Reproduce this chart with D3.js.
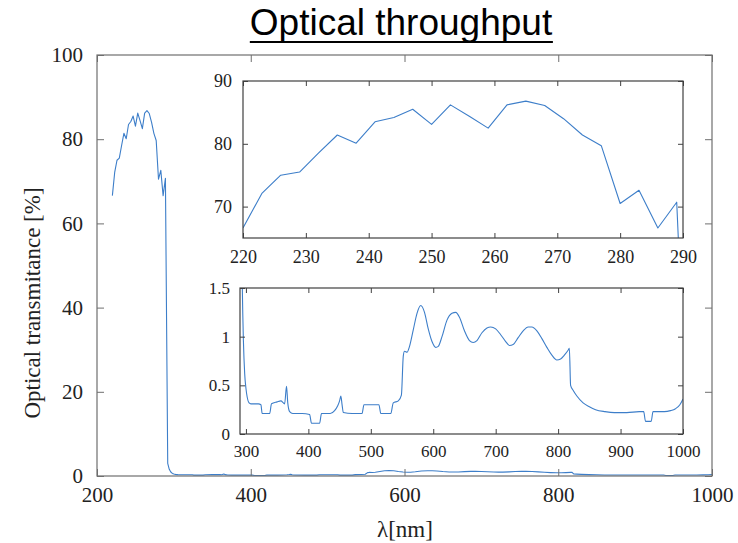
<!DOCTYPE html>
<html>
<head>
<meta charset="utf-8">
<script src="https://cdn.jsdelivr.net/npm/d3@7"></script>
<style>
  html, body { margin: 0; padding: 0; background: #fff; }
  svg { display: block; }
</style>
</head>
<body>
<svg id="chart" width="738" height="543"></svg>
<script>
// ---------- data ----------
const titleText = "Optical throughput";
const xLabel = "λ[nm]";
const yLabel = "Optical transmitance [%]";

// UV band (nm, %)
const uvWavelength = [220,223,226,229,232,235,238,241,244,247,250,253,256,259,262,265,268,271,274,277,280,283,286,289];
const uvTransmittance = [66.6,72.1,75.0,75.5,78.5,81.4,80.1,83.5,84.2,85.5,83.1,86.2,84.4,82.5,86.2,86.8,86.1,84.0,81.4,79.7,70.5,72.6,66.6,70.7];

// Visible / NIR band (nm, %)
const visWavelength = [292,294,296,298,300,302,305,308,320,324,326,335,338,341,350,356,360,362,365,367,370,375,390,402,405,418,421,435,442,447,450,452,454,456,470,486,489,500,513,516,532,536,544,549,552,554,558,562,568,574,580,586,592,598,604,608,614,622,630,636,642,650,658,664,670,678,686,692,700,708,716,722,728,736,744,752,758,766,774,782,790,798,804,810,816,818,820,824,830,840,850,860,875,890,910,930,937,940,949,952,970,980,988,995,1000];
const visTransmittance = [3.0,1.6,0.95,0.62,0.47,0.38,0.32,0.31,0.31,0.30,0.21,0.21,0.21,0.31,0.33,0.34,0.32,0.31,0.49,0.32,0.23,0.21,0.21,0.20,0.11,0.11,0.21,0.21,0.24,0.29,0.34,0.39,0.30,0.22,0.21,0.21,0.30,0.30,0.30,0.21,0.21,0.32,0.34,0.40,0.80,0.85,0.84,0.90,1.07,1.24,1.32,1.25,1.08,0.95,0.89,0.90,1.00,1.17,1.24,1.25,1.20,1.06,0.96,0.94,0.96,1.04,1.09,1.10,1.08,1.02,0.95,0.91,0.92,0.99,1.06,1.10,1.10,1.06,0.98,0.89,0.81,0.76,0.77,0.81,0.86,0.88,0.50,0.45,0.39,0.32,0.28,0.25,0.23,0.22,0.22,0.23,0.23,0.13,0.13,0.23,0.23,0.24,0.26,0.30,0.36];

// tick values
const mainXTicks = [200,400,600,800,1000];
const mainYTicks = [0,20,40,60,80,100];
const uvXTicks = [220,230,240,250,260,270,280,290];
const uvYTicks = [70,80,90];
const visXTicks = [300,400,500,600,700,800,900,1000];
const visYTicks = [0,0.5,1,1.5];

// ---------- build ----------
const SERIF = "'Liberation Serif', 'Times New Roman', 'DejaVu Serif', serif";
const allData = uvWavelength.map((w,i)=>({x:w,y:uvTransmittance[i]}))
  .concat(visWavelength.map((w,i)=>({x:w,y:visTransmittance[i]})));

const LINE = "#3d7ec9";
const svg = d3.select("#chart");

function panel(cfg) {
  const g = svg.append("g");
  const x = d3.scaleLinear().domain(cfg.xDomain).range([cfg.left, cfg.right]);
  const y = d3.scaleLinear().domain(cfg.yDomain).range([cfg.bottom, cfg.top]);
  const id = "clip" + cfg.name;
  svg.append("clipPath").attr("id", id).append("rect")
    .attr("x", cfg.left).attr("y", cfg.top)
    .attr("width", cfg.right - cfg.left).attr("height", cfg.bottom - cfg.top);

  if (cfg.fill) {
    g.append("rect").attr("x", cfg.left).attr("y", cfg.top)
      .attr("width", cfg.right - cfg.left).attr("height", cfg.bottom - cfg.top)
      .attr("fill", "#fff");
  }

  const line = d3.line().x(d=>x(d.x)).y(d=>y(d.y)).curve(cfg.curve || d3.curveLinear);
  g.append("path").datum(cfg.data)
    .attr("clip-path", `url(#${id})`)
    .attr("d", line).attr("fill", "none")
    .attr("stroke", LINE).attr("stroke-width", cfg.lw || 1.2)
    .attr("stroke-linejoin", "round");

  const fmt = d => String(d);
  const ts = cfg.tick;
  const axB = g.append("g").attr("transform", `translate(0,${cfg.bottom})`)
    .call(d3.axisBottom(x).tickValues(cfg.xTicks).tickFormat(fmt).tickSizeInner(-ts).tickSizeOuter(0).tickPadding(cfg.xPad));
  const axL = g.append("g").attr("transform", `translate(${cfg.left},0)`)
    .call(d3.axisLeft(y).tickValues(cfg.yTicks).tickFormat(fmt).tickSizeInner(-ts).tickSizeOuter(0).tickPadding(cfg.yPad));
  const axT = g.append("g").attr("transform", `translate(0,${cfg.top})`)
    .call(d3.axisTop(x).tickValues(cfg.xTicks).tickFormat("").tickSizeInner(-ts).tickSizeOuter(0));
  const axR = g.append("g").attr("transform", `translate(${cfg.right},0)`)
    .call(d3.axisRight(y).tickValues(cfg.yTicks).tickFormat("").tickSizeInner(-ts).tickSizeOuter(0));
  [axB, axL, axT, axR].forEach(a => {
    a.attr("font-family", SERIF).attr("font-size", cfg.fs);
    a.select(".domain").remove();
    a.selectAll(".tick line").attr("stroke", cfg.frame).attr("stroke-width", 1);
    a.selectAll("text").attr("fill", "#222")
      .style("font-family", SERIF).style("font-size", cfg.fs + "px");
  });
  g.append("rect").attr("x", cfg.left).attr("y", cfg.top)
    .attr("width", cfg.right - cfg.left).attr("height", cfg.bottom - cfg.top)
    .attr("fill", "none").attr("stroke", cfg.frame).attr("stroke-width", 1.2);
  return {g, x, y};
}

// main
panel({name:"main", left:97, right:712, top:55, bottom:476,
  xDomain:[200,1000], yDomain:[0,100], xTicks:mainXTicks, yTicks:mainYTicks,
  data: allData, tick:7, xPad:11, yPad:14, fs:21, frame:"#6f6f6f", lw:1.1});

// inset UV
panel({name:"uv", left:243, right:683, top:81, bottom:238, fill:true,
  xDomain:[220,290], yDomain:[65,90], xTicks:uvXTicks, yTicks:uvYTicks,
  data: allData, tick:5, xPad:12, yPad:11, fs:18, frame:"#404040", lw:1.1});

// inset VIS
panel({name:"vis", left:240, right:683, top:288, bottom:434, fill:true,
  xDomain:[290.5,1000], yDomain:[0,1.5], xTicks:visXTicks, yTicks:visYTicks,
  data: allData, tick:5, xPad:11, yPad:10, fs:17, frame:"#404040", lw:1.1,
  curve: d3.curveMonotoneX});

// axis labels
svg.append("text")
  .attr("x", 405).attr("y", 537).attr("text-anchor","middle")
  .style("font-family", SERIF).style("font-size","23px").attr("fill","#222").text(xLabel);

svg.append("text")
  .attr("transform","translate(40,303) rotate(-90)")
  .attr("text-anchor","middle")
  .style("font-family", SERIF).style("font-size","23px").attr("fill","#222").text(yLabel);

// title
const title = svg.append("text")
  .attr("x", 401).attr("y", 35).attr("text-anchor","middle")
  .style("font-family","'Liberation Sans', Arial, sans-serif")
  .style("font-size","37px").attr("fill","#000").text(titleText);
const bb = title.node().getBBox();
svg.append("line").attr("x1", bb.x).attr("x2", bb.x + bb.width)
  .attr("y1", 42).attr("y2", 42).attr("stroke","#000").attr("stroke-width", 2.2);
</script>
</body>
</html>
